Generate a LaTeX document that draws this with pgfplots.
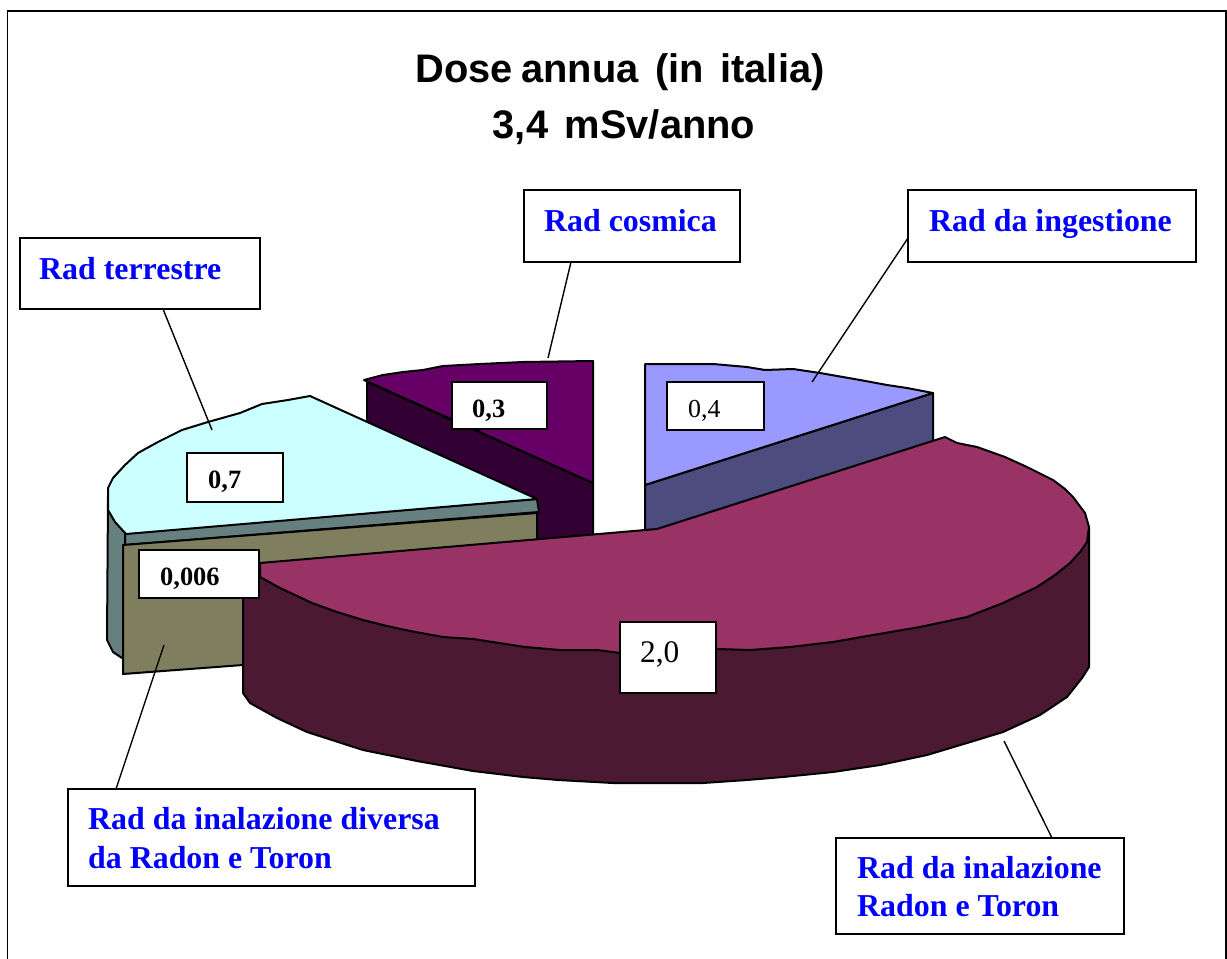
\documentclass[border=0pt]{standalone}
\usepackage{fontspec}
\setmainfont{Liberation Serif}
\newfontfamily\arial[WordSpace=0.75]{Liberation Sans}
\usepackage{pgfplots}
\pgfplotsset{compat=1.18}
\definecolor{bluetop}{HTML}{9999FF}
\definecolor{blueside}{HTML}{4C4C7F}
\definecolor{maroontop}{HTML}{993366}
\definecolor{maroonside}{HTML}{4C1933}
\definecolor{purpletop}{HTML}{660066}
\definecolor{purpleside}{HTML}{330033}
\definecolor{cyantop}{HTML}{CCFFFF}
\definecolor{cyanside}{HTML}{667F7F}
\definecolor{olive}{HTML}{7F7F60}
\tikzset{
  slice/.style={draw=black, line width=2bp, line join=round},
  box/.style={draw=black, fill=white, line width=1.8bp, line join=miter},
  lead/.style={draw=black, line width=1.4bp},
  lab/.style={anchor=base west, inner sep=0pt, font=\fontsize{32}{38}\selectfont\bfseries, text=blue},
  val/.style={anchor=base west, inner sep=0pt, font=\fontsize{26.5}{30}\selectfont\bfseries},
  valr/.style={anchor=base west, inner sep=0pt, font=\fontsize{26}{30}\selectfont},
}
\begin{document}
\begin{tikzpicture}
\useasboundingbox (0,0) rectangle (1227bp,959bp);
\begin{axis}[
  at={(0,0)}, anchor=south west,
  hide axis, scale only axis, width=1227bp, height=959bp,
  xmin=0, xmax=1227, ymin=0, ymax=959, y dir=reverse,
  clip=true,
]
% frame
\addplot[draw=black, line width=1.8bp] coordinates {(7.5,965) (7.5,11) (1226,11) (1226,965)};

% purple slice
\addplot[slice, fill=purpleside] coordinates {(367,382) (593,483) (593,560) (367,560)} -- cycle;
\addplot[slice, fill=purpletop] coordinates {(364,380) (383,375) (403,372) (423,370) (443,366) (480,364) (523,362) (593,361) (593,483)} -- cycle;

% blue slice
\addplot[slice, fill=blueside] coordinates {(645,485) (933,393) (933,445) (655,535) (645,535)} -- cycle;
\addplot[slice, fill=bluetop] coordinates {(645,364) (713,364) (747,367) (765,370) (793,369) (820,373) (860,380) (887,385) (907,388) (933,393) (645,485)} -- cycle;

% cyan slice
\addplot[slice, fill=cyanside] coordinates {(108,497) (111,513) (125,533) (125,660) (113,652) (107,640)} -- cycle;
\addplot[slice, fill=cyanside] coordinates {(125,533) (537,499) (539,512) (125,545)} -- cycle;
\addplot[slice, fill=cyantop] coordinates {(537,499) (310,396) (288,400) (262,404) (240,413) (208,422) (182,430) (158,442) (138,453) (125,465) (113,478) (108,488) (108,510) (115,522) (126,534)} -- cycle;

% olive slice
\addplot[slice, fill=olive] coordinates {(123,545) (537,513) (537,545) (300,660) (243,665) (123,674)} -- cycle;

% maroon slice
\addplot[slice, fill=maroonside] coordinates {(243,570) (1089,527) (1089,667) (1082,678) (1067,697) (1040,715) (1003,732) (967,743) (927,755) (880,765) (833,772) (783,777) (747,780) (703,783) (613,783) (558,780) (523,777) (473,771) (417,761) (363,750) (307,732) (277,718) (250,703) (243,693)} -- cycle;
\addplot[slice, fill=maroontop] coordinates {(260,563) (657,529) (945,437) (957,443) (977,447) (1005,457) (1027,467) (1053,480) (1065,489) (1073,497) (1085,513) (1089,527) (1087,542) (1080,552) (1070,563) (1055,575) (1037,587) (1003,603) (967,617) (920,627) (873,635) (833,642) (790,647) (750,650) (717,649) (620,653) (597,650) (560,650) (525,647) (473,639) (443,637) (410,631) (387,626) (363,620) (337,612) (312,603) (280,588) (260,577)} -- cycle;

% leaders
\addplot[lead] coordinates {(571,262) (548,358)};
\addplot[lead] coordinates {(908,238) (812,382)};
\addplot[lead] coordinates {(163,309) (212,430)};
\addplot[lead] coordinates {(164,645) (116,789)};
\addplot[lead] coordinates {(1004,741) (1052,838)};

% value boxes
\addplot[box] coordinates {(452,382) (547,382) (547,429) (452,429)} -- cycle;
\addplot[box] coordinates {(187,453) (283,453) (283,502) (187,502)} -- cycle;
\addplot[box] coordinates {(139,550) (259,550) (259,598) (139,598)} -- cycle;
\addplot[box] coordinates {(667,382) (764,382) (764,430) (667,430)} -- cycle;
\addplot[box] coordinates {(620,622) (716,622) (716,693) (620,693)} -- cycle;

% label boxes
\addplot[box] coordinates {(524,190) (740,190) (740,262) (524,262)} -- cycle;
\addplot[box] coordinates {(908,190) (1196,190) (1196,262) (908,262)} -- cycle;
\addplot[box] coordinates {(20,238) (260,238) (260,309) (20,309)} -- cycle;
\addplot[box] coordinates {(68,789) (475,789) (475,886) (68,886)} -- cycle;
\addplot[box] coordinates {(836,838) (1124,838) (1124,934) (836,934)} -- cycle;

% text
\node[anchor=base, inner sep=0pt, font=\arial\fontsize{40}{44}\selectfont\bfseries] at (axis cs:620,83) {Dose annua\ \ (in\ \ italia)};
\node[anchor=base, inner sep=0pt, font=\arial\fontsize{40}{44}\selectfont\bfseries] at (axis cs:624,139) {3,4\ \ mSv/anno};

\node[lab] at (axis cs:544,231) {Rad cosmica};
\node[lab] at (axis cs:929,231) {Rad da ingestione};
\node[lab] at (axis cs:39,279) {Rad terrestre};
\node[lab] at (axis cs:88,829) {Rad da inalazione diversa};
\node[lab] at (axis cs:88,868) {da Radon e Toron};
\node[lab] at (axis cs:857,878) {Rad da inalazione};
\node[lab] at (axis cs:857,916) {Radon e Toron};

\node[val] at (axis cs:472,417) {0,3};
\node[val] at (axis cs:208,488) {0,7};
\node[val] at (axis cs:160,585) {0,006};
\node[valr] at (axis cs:688,417) {0,4};
\node[anchor=base west, inner sep=0pt, font=\fontsize{31.5}{36}\selectfont] at (axis cs:640,662) {2,0};
\end{axis}
\end{tikzpicture}
\end{document}
